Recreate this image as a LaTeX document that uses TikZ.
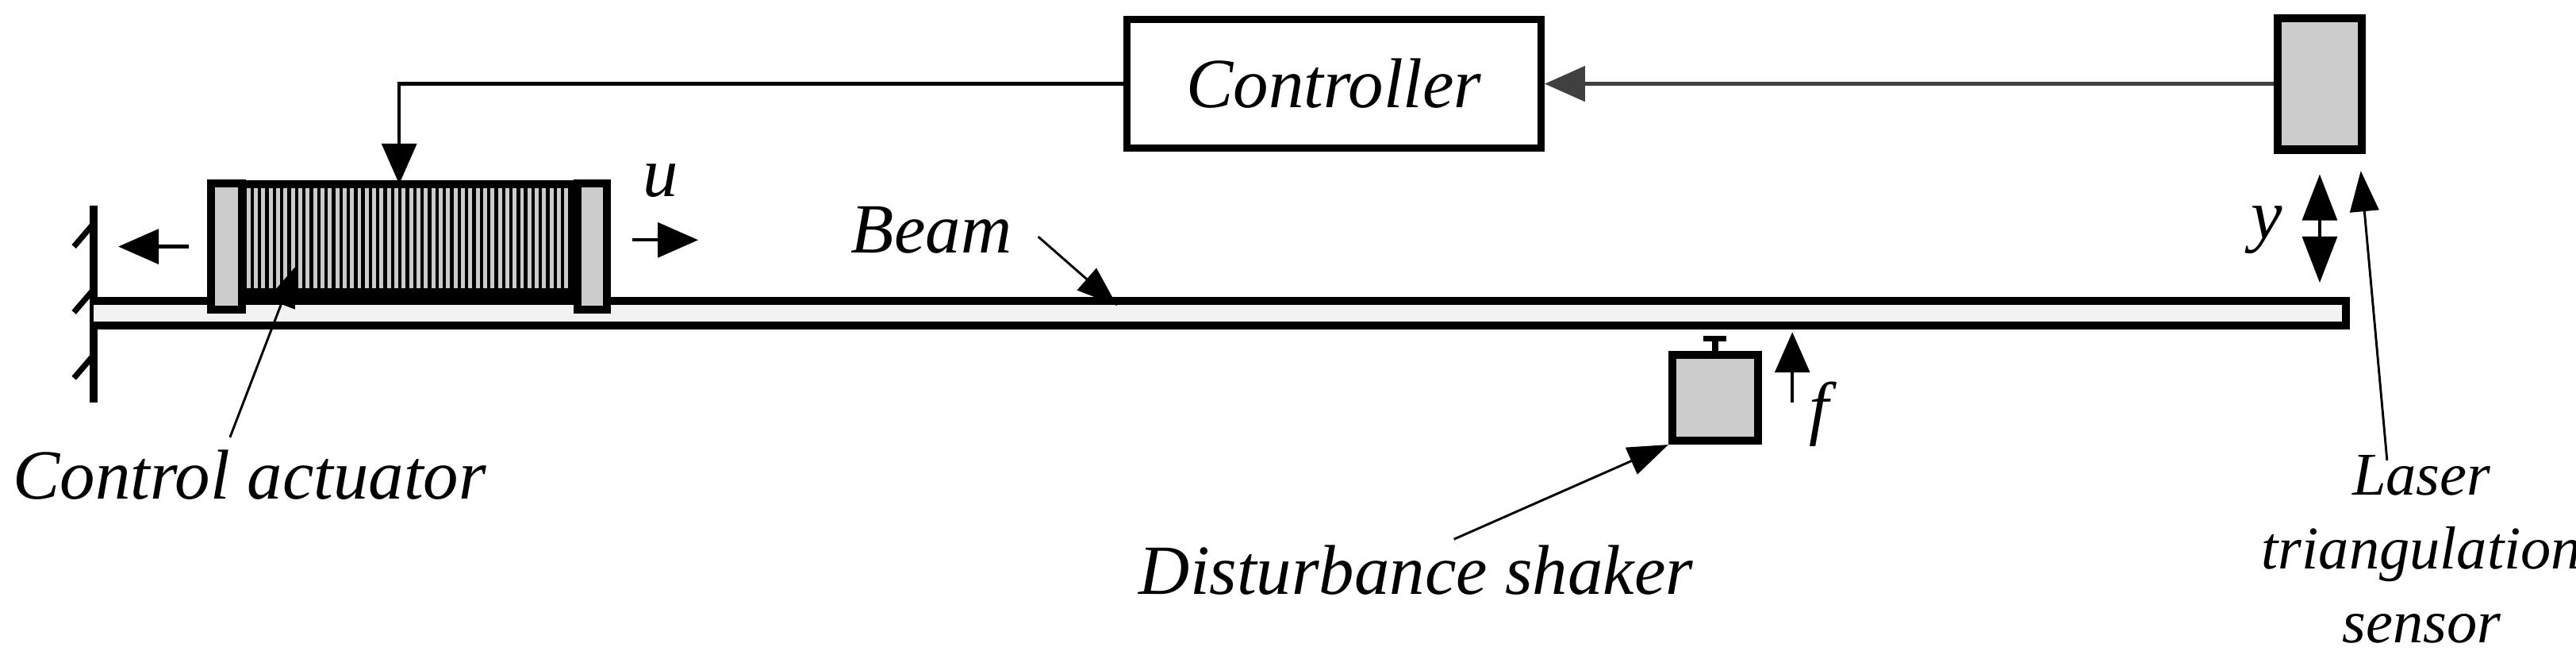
\documentclass[tikz,border=0pt]{standalone}
\usepackage{fontspec}
\setmainfont{Liberation Serif}
\usetikzlibrary{arrows.meta}
\begin{document}
\begin{tikzpicture}[x=0.01cm,y=-0.01cm,
  lbl/.style={font=\fontsize{12.2}{12.8}\selectfont\itshape, inner sep=0pt},
  thick3/.style={line width=1.4pt},
  arr/.style={-{Triangle[length=7pt,width=6pt]}, line width=0.6pt},
  lead/.style={-{Triangle[length=7pt,width=5pt]}, line width=0.4pt}]
\useasboundingbox (0,0) rectangle (1568,398);
% wall
\draw[thick3] (57,125) -- (57,245);
\foreach \yy in {128,168,208}{\draw[line width=1pt] (45,\yy+22) -- (57,\yy+8);}
% beam
\fill[gray!10] (57,183) rectangle (1428,198);
\draw[thick3] (57,183) -- (1428,183) -- (1428,198) -- (57,198);
\coordinate (beamtop) at (680,186);
% actuator
\fill[gray!40] (145,112) rectangle (349,178);
\foreach \xx in {149,153.5,...,347}{\draw[line width=0.6pt] (\xx,112) -- (\xx,178);}
\draw[thick3] (145,112) rectangle (349,178);
\node[draw, thick3, fill=gray!40, minimum width=0.19cm, minimum height=0.77cm, inner sep=0pt, anchor=north west] (capL) at (126,109) {};
\node[draw, thick3, fill=gray!40, minimum width=0.18cm, minimum height=0.77cm, inner sep=0pt, anchor=north west] (capR) at (349,109) {};
\coordinate (act) at (243,112);
\coordinate (acti) at (180,162);
\draw[arr] (115,150) -- (72,150);
\draw[arr] (385,146) -- (425,146);
\node[lbl] (u) at (402,110) {u};
% controller
\node[draw, line width=1.2pt, minimum width=2.52cm, minimum height=0.78cm, lbl] (ctrl) at (812,51) {Controller};
\draw[arr] (ctrl.west) -| (act);
% sensor
\node[draw, thick3, fill=gray!40, minimum width=0.51cm, minimum height=0.80cm, inner sep=0pt] (sens) at (1412,51) {};
\draw[arr, draw=gray!50!black, line width=0.8pt] (sens.west) -- (ctrl.east);
% y
\draw[{Triangle[length=8pt,width=6pt]}-{Triangle[length=8pt,width=6pt]}, line width=0.6pt] (1412,106) -- (1412,172);
\node[lbl] (ylab) at (1380,140) {y};
% shaker
\node[draw, thick3, fill=gray!40, minimum width=0.52cm, minimum height=0.52cm, inner sep=0pt] (shk) at (1044,242) {};
\draw[line width=1pt] (shk.north) -- (1044,206);
\draw[line width=1pt] (1037,206) -- (1051,206);
\draw[arr] (1091,245) -- (1091,202);
\node[lbl] (flab) at (1107,252) {f};
% labels
\node[lbl] (beamlab) at (567,140) {Beam};
\draw[lead] (632,144) -- (beamtop);
\node[lbl] (actlab) at (152,289) {Control actuator};
\draw[lead] (140,266) -- (acti);
\node[lbl] (shlab) at (862,347) {Disturbance shaker};
\draw[lead] (885,328) -- (shk.south west);
\node[lbl, align=center, font=\fontsize{10.5}{12.8}\selectfont\itshape] (laslab) at (1474,334) {Laser\\triangulation\\sensor};
\draw[lead] (1453,280) -- (1437,104);
\end{tikzpicture}
\end{document}
